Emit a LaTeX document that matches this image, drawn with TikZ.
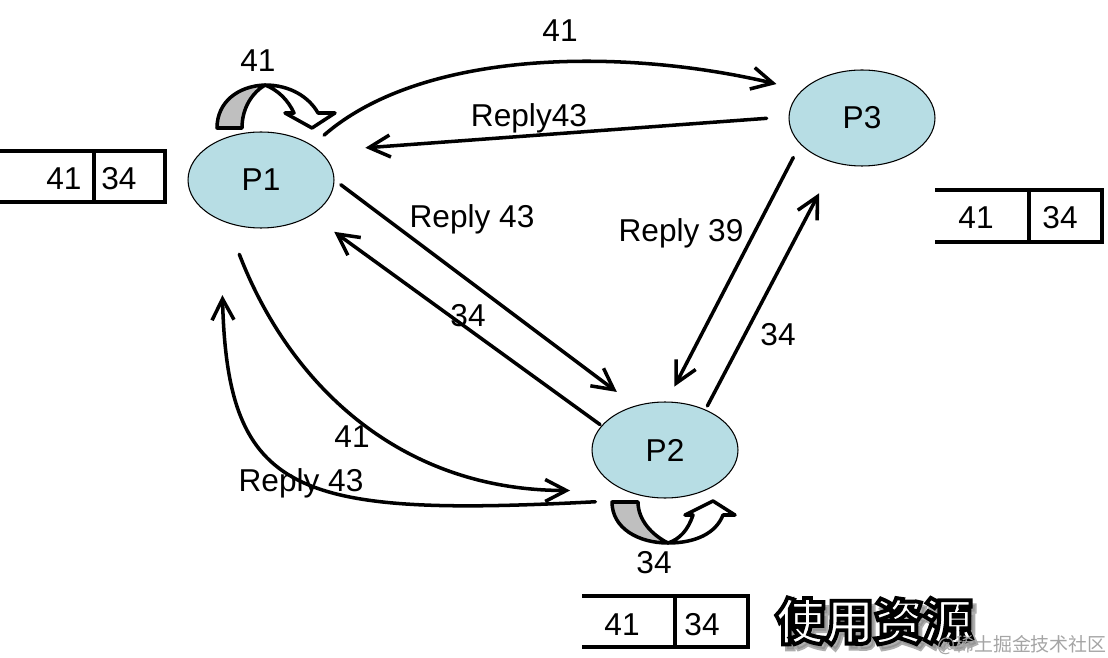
\documentclass[tikz,border=0pt]{standalone}
\usepackage{fontspec}
\setmainfont{Liberation Sans}
\newfontfamily\cjk{Noto Sans CJK SC}
\usetikzlibrary{arrows.meta,shapes.geometric,calc}
\definecolor{nodefill}{RGB}{183,221,228}
\definecolor{loopgray}{RGB}{191,191,191}
\definecolor{wmgray}{RGB}{165,165,165}
\definecolor{shadowgray}{RGB}{140,140,140}
\begin{document}
\begin{tikzpicture}[x=0.02cm,y=-0.02cm,
  proc/.style={ellipse,draw=black,line width=0.6pt,fill=nodefill,minimum width=2.92cm,minimum height=1.92cm,inner sep=0pt,font=\fontsize{18}{20}\selectfont},
  arr/.style={line width=2pt,-{Straight Barb[length=12pt,width=12.5pt]},line cap=round},
  lbl/.style={font=\fontsize{18}{20}\selectfont,anchor=base,inner sep=0pt},
  loopband/.style={line width=2pt,line join=round},
  boxline/.style={line width=2.6pt},
  cn/.style={font=\cjk\bfseries\fontsize{28}{30}\selectfont,inner sep=0pt},
  ]
\useasboundingbox (0,0) rectangle (1108,658);

% processes
\node[proc] (p1) at (261,180) {P1};
\node[proc] (p3) at (862,118) {P3};
\node[proc] (p2) at (665,450) {P2};

% self loops
\draw[loopband,fill=loopgray] (217,128) .. controls (217,102) and (238,86) .. (265,85) .. controls (252,93) and (242,108) .. (242,128) -- cycle;
\draw[loopband,fill=white] (265,85) .. controls (290,85) and (309,97) .. (318,113) -- (335,113) -- (312,128) -- (285,113) -- (294,113) .. controls (288,100) and (278,90) .. (265,85) -- cycle;
\draw[loopband,fill=loopgray] (612,502) .. controls (612,528) and (638,543) .. (668,543) .. controls (652,535) and (638,520) .. (638,502) -- cycle;
\draw[loopband,fill=white] (668,543) .. controls (696,543) and (716,533) .. (723,515) -- (735,515) -- (713,501) -- (685,515) -- (693,515) .. controls (688,530) and (680,539) .. (668,543) -- cycle;

% connectors
\draw[arr,shorten <=8.8pt,shorten >=14.9pt] (p1.34.7) .. controls +(109,-95) and +(-182.5,-43) .. (p3.155.6);
\draw[arr,shorten <=12.5pt,shorten >=25.8pt] (p3.179.4) -- (p1.26.1);
\draw[arr,shorten <=4.5pt,shorten >=13pt] (p1.0) -- (p2.124.3);
\draw[arr,shorten <=1pt,shorten >=16pt] (p2.159.7) -- (p1.-35.8);
\draw[arr,shorten <=8.5pt,shorten >=9.6pt] (p3.203.4) -- (p2.88.2);
\draw[arr,shorten <=2.3pt,shorten >=19.4pt] (p2.45.7) -- (p3.239.3);
\draw[arr,shorten <=19pt,shorten >=31pt] (p1.232.3) .. controls +(62,161) and +(-225,0) .. (p2.225);
\draw[arr,shorten <=36.8pt,shorten >=42.5pt] (p2.264.5) .. controls +(-365,19) and +(7,275) .. (p1.225);

% labels
\node[lbl] (l1) at (560,42) {41};
\node[lbl] (l2) at (529,127) {Reply43};
\node[lbl] (l3) at (258,72) {41};
\node[lbl] (l4) at (472,228) {Reply 43};
\node[lbl] (l5) at (468,326) {34};
\node[lbl] (l6) at (681,242) {Reply 39};
\node[lbl] (l7) at (778,345) {34};
\node[lbl] (l8) at (352,447) {41};
\node[lbl] (l9) at (301,491) {Reply 43};
\node[lbl] (l10) at (654,573) {34};

% queues
\draw[boxline] (0,151) -- (165,151) -- (165,202) -- (0,202);
\draw[boxline] (94,151) -- (94,202);
\node[lbl] (q1a) at (64,190) {41};
\node[lbl] (q1b) at (119,190) {34};

\draw[boxline] (935,190) -- (1102,190) -- (1102,242) -- (935,242);
\draw[boxline] (1029,190) -- (1029,242);
\node[lbl] (q3a) at (976,229) {41};
\node[lbl] (q3b) at (1060,229) {34};

\draw[boxline] (582,596) -- (748,596) -- (748,647) -- (582,647);
\draw[boxline] (675,596) -- (675,647);
\node[lbl] (q2a) at (622,635) {41};
\node[lbl] (q2b) at (702,635) {34};

% caption: white text with black outline and a soft shadow
\node[cn,text=shadowgray,opacity=0.7] (shadow) at (878,626) {\special{pdf:code q 2 Tr 2.2 w 0.55 G}使用资源\special{pdf:code Q}};
\node[cn,text=white] (usage) at (874,621) {\special{pdf:code q 2 Tr 2.2 w 0 G}使用资源\special{pdf:code Q}};

\node[font=\cjk\fontsize{10.8}{12}\selectfont,text=wmgray,inner sep=0pt] (wm) at (1022,645) {@稀土掘金技术社区};
\end{tikzpicture}
\end{document}
